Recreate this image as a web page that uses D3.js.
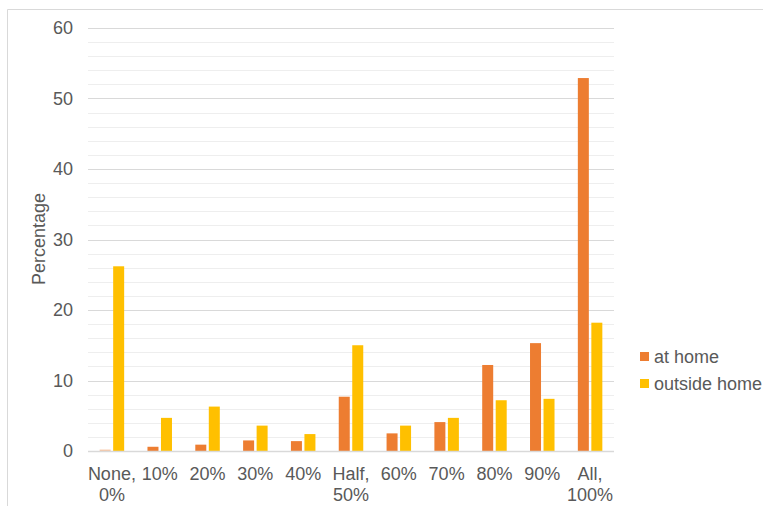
<!DOCTYPE html>
<html>
<head>
<meta charset="utf-8">
<script src="https://cdn.jsdelivr.net/npm/d3@7"></script>
<style>
  html, body { margin: 0; padding: 0; background: #fff; }
  svg { display: block; font-family: "Liberation Sans", Arial, sans-serif; }
</style>
</head>
<body>
<svg id="chart" width="763" height="506"></svg>
<script>
// Share of time spent, by location
const categories = [["None,", "0%"], ["10%"], ["20%"], ["30%"], ["40%"], ["Half,", "50%"], ["60%"], ["70%"], ["80%"], ["90%"], ["All,", "100%"]];
const atHome = [0.2, 0.6, 0.9, 1.5, 1.4, 7.7, 2.5, 4.1, 12.2, 15.3, 52.9];
const outsideHome = [26.2, 4.7, 6.3, 3.6, 2.4, 15.0, 3.6, 4.7, 7.2, 7.4, 18.2];
const seriesNames = ["at home", "outside home"];
const seriesColors = ["#ed7d31", "#ffc000"];
const yTicks = [0, 10, 20, 30, 40, 50, 60];

const svg = d3.select("#chart");
const W = 763, H = 506;
const FS = 18;
const textColor = "#595959";

// Chart frame (top and left edges visible)
svg.append("line").attr("x1", 7.5).attr("x2", W).attr("y1", 9.5).attr("y2", 9.5)
  .attr("stroke", "#d9d9d9").attr("stroke-width", 1);
svg.append("line").attr("x1", 7.5).attr("x2", 7.5).attr("y1", 9.5).attr("y2", H)
  .attr("stroke", "#d9d9d9").attr("stroke-width", 1);

const plot = { left: 88, right: 614, top: 28, bottom: 451 };

const x = d3.scaleBand().domain(d3.range(categories.length))
  .range([plot.left, plot.right]).paddingInner(0).paddingOuter(0);
const y = d3.scaleLinear().domain([0, 60]).range([plot.bottom, plot.top]);

const g = svg.append("g");

// Minor gridlines every 2
const minor = d3.range(2, 60, 2).filter(v => v % 10 !== 0);
g.selectAll(".minor").data(minor).join("line")
  .attr("x1", plot.left).attr("x2", plot.right)
  .attr("y1", d => Math.round(y(d)) + 0.5).attr("y2", d => Math.round(y(d)) + 0.5)
  .attr("stroke", "#eeeeee").attr("stroke-width", 1);

// Major gridlines every 10
g.selectAll(".major").data(yTicks.filter(v => v > 0)).join("line")
  .attr("x1", plot.left).attr("x2", plot.right)
  .attr("y1", d => Math.round(y(d)) + 0.5).attr("y2", d => Math.round(y(d)) + 0.5)
  .attr("stroke", "#d9d9d9").attr("stroke-width", 1);

// Y axis tick labels
const yAxis = d3.axisLeft(y).tickValues(yTicks).tickSize(0).tickPadding(0);
const ya = svg.append("g").attr("transform", `translate(73,0)`).call(yAxis);
ya.select(".domain").remove();
ya.selectAll("text").attr("fill", textColor).attr("font-size", FS)
  .attr("font-family", "Liberation Sans, Arial, sans-serif");

// Bars
const barW = 11, barGap = 2.5;
const groupW = barW * 2 + barGap;
const series = [atHome, outsideHome];
series.forEach((vals, si) => {
  g.selectAll(".bar" + si).data(vals).join("rect")
    .attr("x", (d, i) => x(i) + x.bandwidth() / 2 - groupW / 2 + si * (barW + barGap))
    .attr("y", d => y(d))
    .attr("width", barW)
    .attr("height", d => y(0) - y(d))
    .attr("fill", seriesColors[si])
    .attr("opacity", (d, i) => (si === 0 && i === 0) ? 0.45 : 1);
});

// Baseline
g.append("line").attr("x1", plot.left).attr("x2", plot.right)
  .attr("y1", plot.bottom + 0.5).attr("y2", plot.bottom + 0.5)
  .attr("stroke", "#d9d9d9").attr("stroke-width", 1.5);

// X category labels (one or two lines)
const xl = svg.append("g");
categories.forEach((lines, i) => {
  const cx = x(i) + x.bandwidth() / 2;
  const t = xl.append("text")
    .attr("x", cx)
    .attr("y", 480)
    .attr("text-anchor", "middle")
    .attr("fill", textColor).attr("font-size", FS);
  lines.forEach((s, k) => {
    t.append("tspan").attr("x", cx)
      .attr("dy", k === 0 ? 0 : 21).text(s);
  });
});

// Y axis title
svg.append("text")
  .attr("transform", "translate(45,239) rotate(-90)")
  .attr("text-anchor", "middle")
  .attr("fill", textColor).attr("font-size", FS)
  .text("Percentage");

// Legend
const legend = svg.append("g").attr("transform", "translate(640,357)");
seriesNames.forEach((name, i) => {
  const row = legend.append("g").attr("transform", `translate(0,${i * 27})`);
  row.append("rect").attr("x", 0).attr("y", -5).attr("width", 9).attr("height", 9)
    .attr("fill", seriesColors[i]);
  row.append("text").attr("x", 14).attr("y", 0).attr("dy", "0.35em")
    .attr("fill", textColor).attr("font-size", FS).text(name);
});
</script>
</body>
</html>
